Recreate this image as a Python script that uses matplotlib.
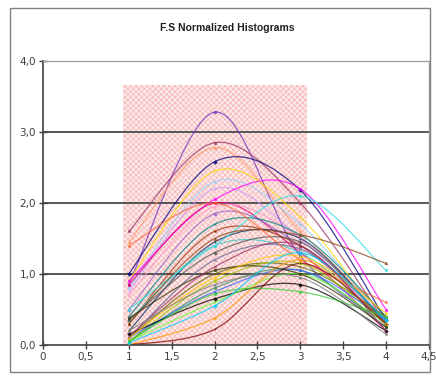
import matplotlib
matplotlib.use("Agg")
import matplotlib.pyplot as plt
from matplotlib.path import Path
from matplotlib.patches import PathPatch, Rectangle

# histogram bins (x) and normalized values per sample
bins = [1, 2, 3, 4]

peaked_curves = [
    [0.85, 3.28, 1.25, 0.30],
    [1.60, 2.85, 2.00, 0.30],
    [1.45, 2.78, 1.60, 0.40],
    [1.00, 2.58, 2.18, 0.35],
    [0.90, 2.45, 1.80, 0.25],
    [0.80, 2.30, 1.70, 0.30],
    [0.75, 2.20, 1.50, 0.25],
    [0.90, 2.05, 2.20, 0.50],
    [0.85, 2.00, 1.30, 0.20],
    [0.70, 1.95, 1.50, 0.35],
    [0.50, 1.85, 1.40, 0.30],
    [0.40, 1.70, 1.55, 0.40],
    [0.30, 1.60, 1.40, 0.35],
    [0.20, 1.45, 1.50, 0.30],
    [0.35, 1.40, 1.30, 0.30],
    [0.50, 1.40, 2.10, 1.05],
    [0.30, 1.50, 1.55, 1.15],
    [0.35, 1.30, 1.45, 0.30],
    [0.10, 1.20, 1.35, 0.35],
    [1.40, 2.00, 1.20, 0.60],
]

rising_curves = [
    [0.10, 1.00, 1.10, 0.40],
    [0.05, 0.90, 1.15, 0.30],
    [0.05, 0.80, 1.05, 0.25],
    [0.10, 0.75, 1.05, 0.35],
    [0.15, 0.65, 0.85, 0.20],
    [0.05, 0.60, 1.00, 0.30],
    [0.00, 0.38, 1.20, 0.30],
    [0.00, 0.22, 1.15, 0.30],
    [0.05, 0.72, 0.75, 0.40],
    [0.38, 1.05, 1.00, 0.25],
    [0.10, 0.95, 1.25, 0.45],
    [0.03, 0.55, 1.30, 0.35],
    [0.12, 1.10, 1.40, 0.20],
    [0.20, 0.85, 0.95, 0.15],
]

series_colors = [
    "#7030c0", "#993366", "#ff9966", "#000080", "#ffd700", "#99ccff",
    "#cc99ff", "#ff00ff", "#e0007a", "#ff99cc", "#9966cc", "#008080",
    "#993300", "#003366", "#33cccc", "#33e0e0", "#8b4513", "#555555",
    "#666699", "#ff6633",
    "#666600", "#99cc00", "#339966", "#3366ff", "#000000", "#66ff33",
    "#ff9900", "#800000", "#33cc33", "#333300", "#ffcc00", "#00ccff",
    "#993366", "#808080",
]

markers = ["o", "s", "^", "D", "x", "*", "+"]


def smooth_path(xs, ys):
    # Excel-style smoothed line: cubic Bezier segments through the points
    pts = list(zip(xs, ys))
    n = len(pts)
    verts = [pts[0]]
    codes = [Path.MOVETO]
    for i in range(n - 1):
        p0 = pts[max(i - 1, 0)]
        p1 = pts[i]
        p2 = pts[i + 1]
        p3 = pts[min(i + 2, n - 1)]
        c1 = (p1[0] + (p2[0] - p0[0]) / 6, p1[1] + (p2[1] - p0[1]) / 6)
        c2 = (p2[0] - (p3[0] - p1[0]) / 6, p2[1] - (p3[1] - p1[1]) / 6)
        verts += [c1, c2, p2]
        codes += [Path.CURVE4] * 3
    return Path(verts, codes)


plt.rcParams["hatch.linewidth"] = 0.5

fig = plt.figure(figsize=(4.36, 3.77), dpi=100)
fig.patches.append(Rectangle((10 / 436, 5 / 377), 420 / 436, 364 / 377,
                             transform=fig.transFigure, fill=False,
                             edgecolor="#808080", lw=1))
ax = fig.add_axes([43 / 436, 32 / 377, 386 / 436, 284 / 377])

ax.set_xlim(0, 4.5)
ax.set_ylim(0, 4.0)

ax.add_patch(Rectangle((0.93, 0), 2.15, 3.66, facecolor="#fde9e9",
                       edgecolor="#f5b4b4", hatch="xxxxxx", lw=0, zorder=0.5))

for yv in [1, 2, 3]:
    ax.axhline(yv, color="#4a4a4a", lw=1.3, zorder=1)

all_curves = peaked_curves + rising_curves
for k, vals in enumerate(all_curves):
    col = series_colors[k % len(series_colors)]
    ax.add_patch(PathPatch(smooth_path(bins, vals), fill=False,
                           edgecolor=col, lw=0.9, alpha=0.75, zorder=2))
    ax.plot(bins, vals, linestyle="none", marker=markers[k % len(markers)],
            ms=1.8, mew=0.5, color=col, alpha=0.8, zorder=3)

ax.set_xticks([0, 0.5, 1, 1.5, 2, 2.5, 3, 3.5, 4, 4.5])
ax.set_xticklabels(["0", "0,5", "1", "1,5", "2", "2,5", "3", "3,5", "4", "4,5"])
ax.set_yticks([0, 1, 2, 3, 4])
ax.set_yticklabels(["0,0", "1,0", "2,0", "3,0", "4,0"])
ax.tick_params(axis="both", direction="inout", length=6, width=1,
               color="#404040", labelcolor="#404040", labelsize=7.5, pad=2)

for side in ["left", "bottom"]:
    ax.spines[side].set_color("#404040")
    ax.spines[side].set_linewidth(1.2)
for side in ["top", "right"]:
    ax.spines[side].set_color("#a0a0a0")
    ax.spines[side].set_linewidth(1)

fig.text(227 / 436, 1 - 28 / 377, "F.S Normalized Histograms", ha="center",
         va="center", fontsize=7.5, fontweight="bold",
         family="Liberation Sans", color="#202020")

fig.savefig("out.png", dpi=100)
